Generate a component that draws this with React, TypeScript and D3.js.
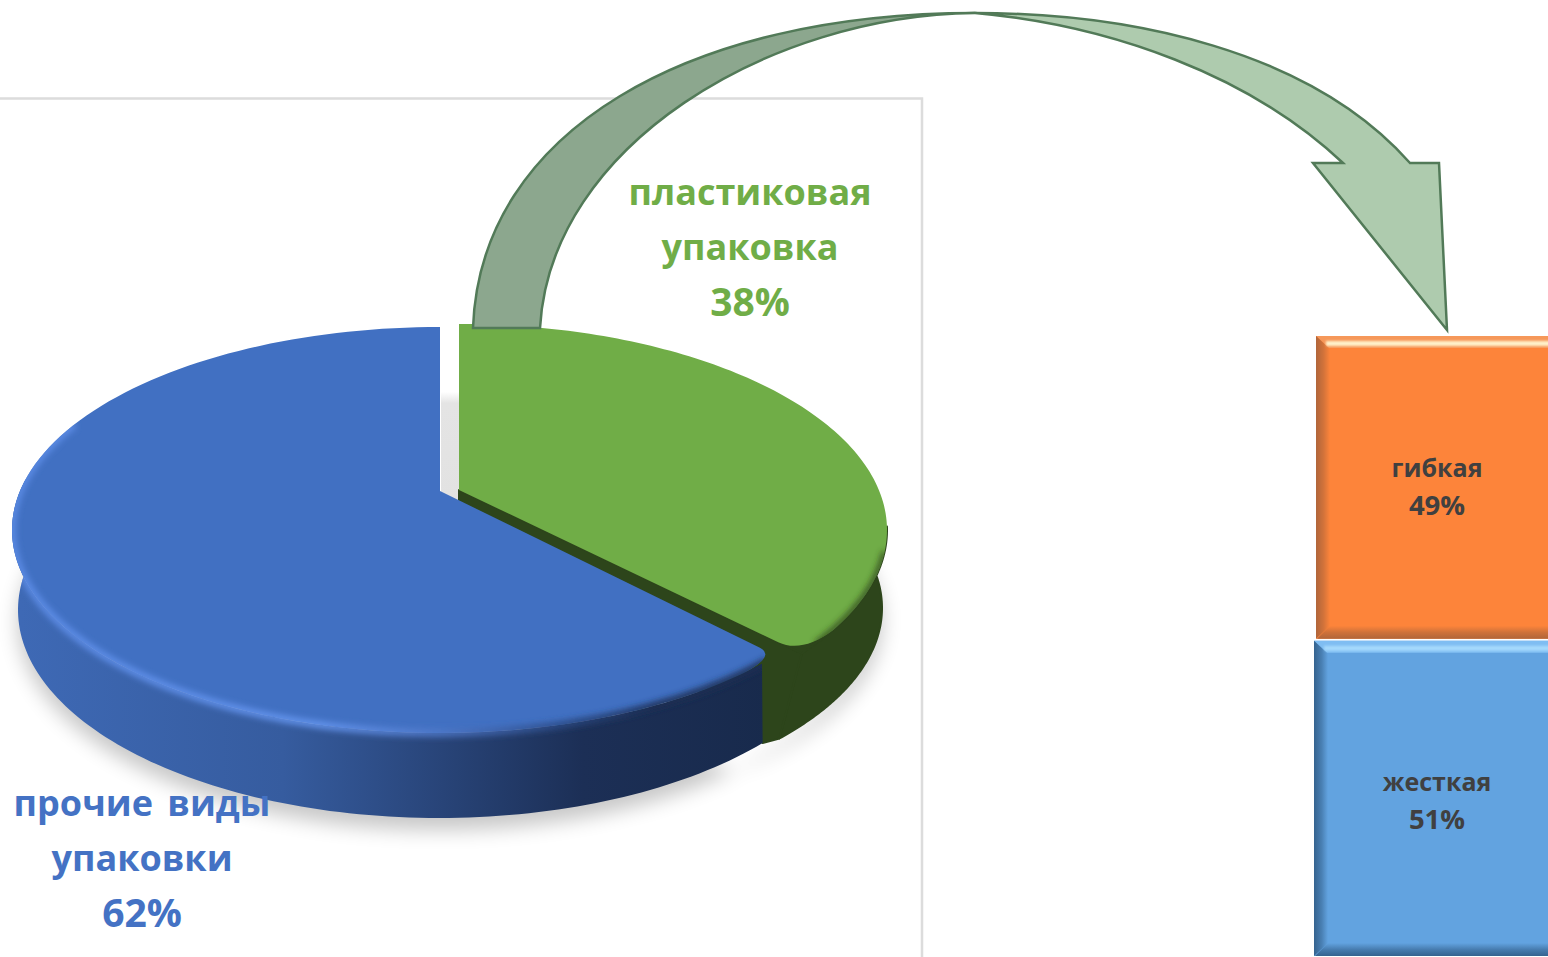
import React from "react";
import * as d3 from "d3";

const pieLabels = [["прочие виды", "упаковки", "62%"], ["пластиковая", "упаковка", "38%"]];
const pieValues = [62, 38];
const stackNames = ["жесткая", "гибкая"];
const stackValues = [51, 49];
const stackColors = ["#62a3e0", "#fd843a"];
const stackLight = ["#a4d8fc", "#fff0c8"];
const stackTopBand = ["#7fbdf2", "#f6985a"];
const stackDark = ["#35638f", "#b0653a"];
const stackLeft = [1314, 1316];
const stackShift = [12, 9];

type Pt = [number, number];
type Geo = { ax: number; ay: number; cx: number; cy: number; rx: number; ry: number; k: number };
const W = 1548, H = 957;
const blueTop: Geo = { ax: 440, ay: 491, cx: 440, cy: 530, rx: 428, ry: 203, k: 0.97 };
const blueBot: Geo = { ax: 430, ay: 568, cx: 439, cy: 610, rx: 421, ry: 208, k: 1 };
const greenTop: Geo = { ax: 459, ay: 490, cx: 459, cy: 530, rx: 428, ry: 206, k: 0.93 };
const greenBot: Geo = { ax: 444, ay: 570, cx: 458, cy: 608, rx: 424, ry: 200, k: 1 };

function ray(g: Geo, a: number): Pt {
  const dx = g.rx * Math.sin(a), dy = -g.ry * g.k * Math.cos(a);
  const ox = (g.ax - g.cx) / g.rx, oy = (g.ay - g.cy) / g.ry;
  const ux = dx / g.rx, uy = dy / g.ry;
  const A = ux * ux + uy * uy, B = 2 * (ox * ux + oy * uy), C = ox * ox + oy * oy - 1;
  const s = (-B + Math.sqrt(B * B - 4 * A * C)) / (2 * A);
  return [g.ax + dx * s, g.ay + dy * s];
}
const arcPts = (g: Geo, a0: number, a1: number): Pt[] => d3.range(0, 121).map(i => ray(g, a0 + ((a1 - a0) * i) / 120));
const line = d3.line();
const closed = (pts: Pt[]) => (line(pts) || "") + "Z";
const along = (from: Pt, to: Pt, dist: number): Pt => {
  const len = Math.hypot(to[0] - from[0], to[1] - from[1]);
  return [from[0] + ((to[0] - from[0]) * dist) / len, from[1] + ((to[1] - from[1]) * dist) / len];
};

export default function App() {
  const arcs = d3.pie<number>().sort(null)(pieValues.slice().reverse());
  const green = arcs[0], blue = arcs[1];

  const blueApex: Pt = [blueTop.ax, blueTop.ay];
  const greenApex: Pt = [greenTop.ax, greenTop.ay];
  const blueArc = arcPts(blueTop, blue.startAngle, blue.endAngle);
  const greenArc = arcPts(greenTop, green.startAngle, green.endAngle);
  const blueEnd = blueArc[0], greenEnd = greenArc[120];

  // the cut edges of the slices round off where they meet the rim
  const blueP1 = along(blueEnd, blueApex, 18);
  const blueFace = `M${blueApex}L${blueP1}Q${blueEnd} ${blueArc[3]}` + (line(blueArc.slice(4)) || "").replace(/^M/, "L") + "Z";
  const greenP1 = along(greenEnd, greenApex, 26);
  const greenFace = (line([greenApex, ...greenArc.slice(0, 115)]) || "") + `Q${greenEnd} ${greenP1}Z`;
  const greenCorner = closed([greenP1, greenEnd, greenArc[114]]);

  const blueWallTop = arcPts(blueTop, blue.startAngle + 0.045, Math.PI * 1.52);
  const blueWallBot = arcPts(blueBot, blue.startAngle, Math.PI * 1.52);
  const blueWall = closed([...blueWallTop, ...blueWallBot.slice().reverse()]);
  const greenWallTop = arcPts(greenTop, Math.PI * 0.56, green.endAngle);
  const greenWallBot = arcPts(greenBot, Math.PI * 0.5, green.endAngle);
  const greenWall = closed([...greenWallTop, ...greenWallBot.slice().reverse()]);
  const cutT = (greenTop.ax - blueTop.ax) / (blueEnd[0] - blueTop.ax);
  const greenCut = closed([
    greenApex,
    greenWallTop[120],
    greenWallBot[120],
    ray(blueBot, blue.startAngle),
    [greenTop.ax, blueTop.ay + (blueEnd[1] - blueTop.ay) * cutT],
  ]);
  const rim = line(arcPts(blueTop, blue.startAngle + 0.03, Math.PI * 1.62)) || "";
  const greenRim = line(arcPts(greenTop, Math.PI * 0.6, green.endAngle - 0.05)) || "";

  const y = d3.scaleLinear().domain([0, 100]).range([957, 335]);
  const stack = d3.stack<any>().keys(stackNames)([Object.fromEntries(stackNames.map((n, i) => [n, stackValues[i]]))]);
  const xRight = 1558, xLabel = 1437;

  const arrowLeft = "M473,328 C480,130 690,13 975,13 C770,15 550,145 540,328 Z";
  const arrowRight = "M975,13 C1130,13 1310,50 1410,163 L1439,163 L1447,330 L1313,163 L1343,163 C1250,75 1110,25 975,13 Z";
  const labelStyle = { fontFamily: "'Open Sans'", fontWeight: 700 };

  return (
    <svg width={W} height={H} viewBox={`0 0 ${W} ${H}`} style={{ position: "absolute", left: 0, top: 0, display: "block" }}>
      <defs>
        <linearGradient id="blueWall" gradientUnits="userSpaceOnUse" x1="20" x2="770" y1="0" y2="0">
          <stop offset="0" stopColor="#3e69b5" />
          <stop offset="0.35" stopColor="#365c9f" />
          <stop offset="0.75" stopColor="#1c2f56" />
          <stop offset="1" stopColor="#182a4c" />
        </linearGradient>
        <linearGradient id="rimGrad" gradientUnits="userSpaceOnUse" x1="20" x2="770" y1="0" y2="0">
          <stop offset="0" stopColor="#5c8ce6" />
          <stop offset="0.4" stopColor="#6595ee" />
          <stop offset="0.56" stopColor="#4f78c8" />
          <stop offset="0.72" stopColor="#2b4a85" />
          <stop offset="0.85" stopColor="#1b2d52" />
          <stop offset="1" stopColor="#1b2d52" />
        </linearGradient>
        <linearGradient id="gap" x1="0" x2="0" y1="0" y2="1">
          <stop offset="0" stopColor="#ffffff" />
          <stop offset="0.1" stopColor="#e4e4e4" />
          <stop offset="1" stopColor="#e2e2e2" />
        </linearGradient>
        {stackNames.map((n, i) => (
          <React.Fragment key={n}>
            <linearGradient id={`left${i}`} x1="0" x2="1" y1="0" y2="0">
              <stop offset="0" stopColor={stackDark[i]} />
              <stop offset="0.55" stopColor={stackDark[i]} stopOpacity={0.55} />
              <stop offset="1" stopColor={stackDark[i]} stopOpacity={0} />
            </linearGradient>
            <linearGradient id={`bottom${i}`} x1="0" x2="0" y1="1" y2="0">
              <stop offset="0" stopColor={stackDark[i]} />
              <stop offset="0.5" stopColor={stackDark[i]} stopOpacity={0.6} />
              <stop offset="1" stopColor={stackDark[i]} stopOpacity={0} />
            </linearGradient>
          </React.Fragment>
        ))}
        <filter id="shadow" x="-10%" y="-20%" width="120%" height="140%"><feGaussianBlur stdDeviation="10" /></filter>
        <filter id="soft" x="-10%" y="-10%" width="120%" height="120%"><feGaussianBlur stdDeviation="3" /></filter>
        <filter id="tiny" x="-5%" y="-100%" width="110%" height="300%"><feGaussianBlur stdDeviation="1" /></filter>
        <clipPath id="blueClip"><path d={blueFace} /><path d={blueWall} /></clipPath>
        <clipPath id="greenClip"><path d={greenFace} /></clipPath>
      </defs>

      <path d={`M0,98.5 H922 V${H}`} fill="none" stroke="#dcdcdc" strokeWidth={2.5} />

      <path d={closed([...arcPts(blueBot, Math.PI * 0.55, Math.PI * 1.6), ...arcPts(greenBot, Math.PI * 0.4, Math.PI * 0.8).reverse()])} transform="translate(0,12)" fill="#000" opacity={0.22} filter="url(#shadow)" />
      <rect x={441} y={392} width={18} height={110} fill="url(#gap)" />

      <path d={greenWall} fill="#2d451b" stroke="#2d451b" strokeWidth={2} strokeLinejoin="round" />
      <path d={greenCut} fill="#2d451b" stroke="#2d451b" strokeWidth={2} strokeLinejoin="round" />
      <path d={greenCorner} fill="#2d451b" stroke="#2d451b" strokeWidth={2} strokeLinejoin="round" />
      <path d={greenFace} fill="#70ad47" />
      <g clipPath="url(#greenClip)">
        <path d={greenRim} fill="none" stroke="#2d451b" strokeWidth={5} filter="url(#soft)" />
      </g>
      <path d={blueWall} fill="url(#blueWall)" />
      <path d={blueFace} fill="#4170c2" />
      <g clipPath="url(#blueClip)">
        <path d={rim} fill="none" stroke="url(#rimGrad)" strokeWidth={7} filter="url(#soft)" />
      </g>

      <path d={arrowLeft} fill="#8ca78e" stroke="#527a58" strokeWidth={2.5} strokeLinejoin="miter" />
      <path d={arrowRight} fill="#aecbae" stroke="#527a58" strokeWidth={2.5} strokeLinejoin="miter" />

      {stack.map((s, i) => {
        const yb = y(s[0][0]), yt = y(s[0][1]);
        const x0 = stackLeft[i];
        const b = 14;
        const c = (yt + yb) / 2 + stackShift[i];
        return (
          <g key={stackNames[i]}>
            <rect x={x0} y={yt + 1} width={xRight - x0} height={yb - yt - 2} fill={stackColors[i]} />
            <path d={`M${x0},${yt + 1} H${xRight} V${yt + 13} H${x0 + 13} Z`} fill={stackTopBand[i]} />
            <rect x={x0 + 10} y={yt + 6} width={xRight - x0 - 10} height={5} fill={stackLight[i]} filter="url(#tiny)" />
            <path d={`M${x0},${yt + 1} L${x0 + b},${yt + b} V${yb - b} L${x0},${yb - 1} Z`} fill={`url(#left${i})`} />
            <path d={`M${x0 + 1},${yb - 1} L${x0 + b},${yb - b} H${xRight} V${yb - 1} Z`} fill={`url(#bottom${i})`} />
            <text textAnchor="middle" x={xLabel} y={c - 19} {...labelStyle} fontSize={25} fill="#404040">{stackNames[i]}</text>
            <text textAnchor="middle" x={xLabel} y={c + 19} {...labelStyle} fontSize={27.5} fill="#404040">{stackValues[i]}%</text>
          </g>
        );
      })}

      {pieLabels[1].map((t, i) => (
        <text key={t} x={750} y={205 + i * 54.5 + (i === 2 ? 1.5 : 0)} textAnchor="middle" {...labelStyle} fontSize={i === 2 ? 39 : 36} fill="#70ad47">{t}</text>
      ))}
      {pieLabels[0].map((t, i) => (
        <text key={t} x={142} y={816 + i * 54.5 + (i === 2 ? 1.5 : 0)} textAnchor="middle" {...labelStyle} wordSpacing={5} fontSize={i === 2 ? 39 : 36} fill="#4472c4">{t}</text>
      ))}
    </svg>
  );
}
